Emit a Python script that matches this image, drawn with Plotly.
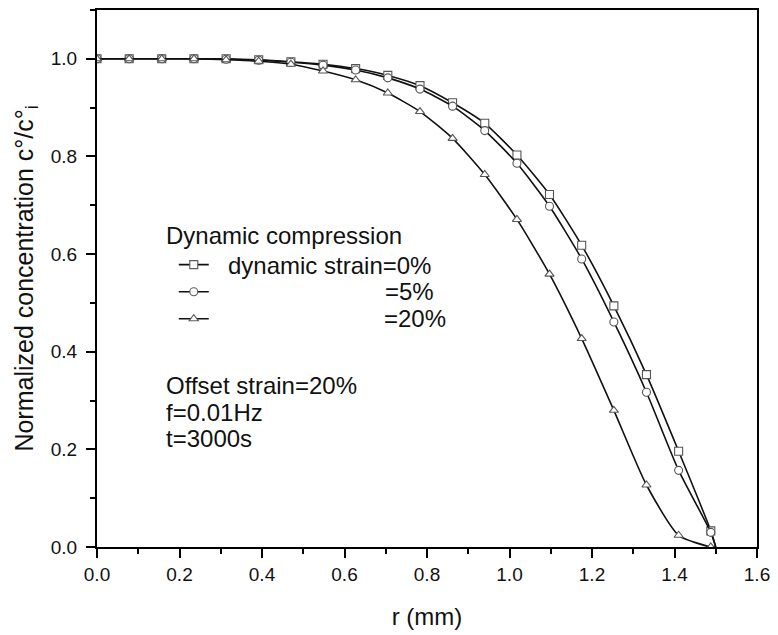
import plotly.graph_objects as go

# r positions of the markers (mm)
r = [0.000, 0.078, 0.157, 0.235, 0.313, 0.392, 0.470, 0.548, 0.627, 0.705,
     0.783, 0.862, 0.940, 1.018, 1.097, 1.175, 1.253, 1.332, 1.410, 1.488]
r_end = 1.5
c_end = 0.0

c_0 = [1.000, 1.000, 1.000, 1.000, 1.000, 0.998, 0.994, 0.989, 0.980, 0.966,
       0.945, 0.910, 0.868, 0.803, 0.722, 0.618, 0.494, 0.353, 0.196, 0.033]
c_5 = [1.000, 1.000, 1.000, 1.000, 0.999, 0.997, 0.993, 0.987, 0.977, 0.961,
       0.938, 0.903, 0.853, 0.786, 0.698, 0.590, 0.461, 0.317, 0.157, 0.030]
c_20 = [1.000, 1.000, 1.000, 1.000, 0.998, 0.995, 0.989, 0.975, 0.957, 0.930,
        0.892, 0.837, 0.763, 0.671, 0.559, 0.427, 0.280, 0.127, 0.024, 0.000]

names = ["dynamic strain=0%", "=5%", "=20%"]
symbols = ["square", "circle", "triangle-up"]
series = [c_0, c_5, c_20]

x_ticks = [0.0, 0.2, 0.4, 0.6, 0.8, 1.0, 1.2, 1.4, 1.6]
y_ticks = [0.0, 0.2, 0.4, 0.6, 0.8, 1.0]

FONT = "Liberation Sans, Arial, sans-serif"
NB = "\u00a0"
TXT = 24

fig = go.Figure()
for k, (name, sym, ys) in enumerate(zip(names, symbols, series)):
    opac = [1] * len(r) + [0]
    fig.add_trace(go.Scatter(
        x=r + [r_end], y=ys + [c_end],
        mode="lines+markers", name=NB,
        line=dict(color="#111111", width=1.6, shape="spline", smoothing=0.6),
        marker=dict(symbol=sym, size=8, color="white", opacity=opac,
                    line=dict(color="#555555", width=1.1)),
    ))

W, H = 778 - 97 - 19, 635 - 8 - 88


def px(xp):
    return (xp - 97) / W


def py(yp):
    return (547 - yp) / H


fig.update_layout(
    width=778, height=635,
    margin=dict(l=97, r=19, t=8, b=88),
    paper_bgcolor="white", plot_bgcolor="white",
    font=dict(family=FONT, size=19, color="#111111"),
    showlegend=True,
    legend=dict(
        x=px(174), y=py(245), xanchor="left", yanchor="top",
        bgcolor="rgba(0,0,0,0)", borderwidth=0,
        font=dict(size=18.5, family=FONT, color="#111111"),
        tracegroupgap=0,
    ),
    xaxis=dict(
        range=[0, 1.6], tickvals=x_ticks, ticktext=[f"{v:.1f}" for v in x_ticks],
        showline=True, linecolor="black", linewidth=2, mirror=True,
        ticks="outside", ticklen=9, tickwidth=2, tickcolor="black",
        minor=dict(dtick=0.1, ticks="outside", ticklen=5, tickwidth=2, tickcolor="black"),
        showgrid=False, zeroline=False,
        title=dict(text="r (mm)", font=dict(size=TXT), standoff=24),
        tickfont=dict(size=19),
    ),
    yaxis=dict(
        range=[0, 1.1], tickvals=y_ticks, ticktext=[f"{v:.1f}" for v in y_ticks],
        showline=True, linecolor="black", linewidth=2, mirror=True,
        ticks="outside", ticklen=9, tickwidth=2, tickcolor="black",
        minor=dict(dtick=0.1, ticks="outside", ticklen=5, tickwidth=2, tickcolor="black"),
        showgrid=False, zeroline=False, ticklabelstandoff=5,
        title=dict(text="Normalized concentration c°/c°<sub>i</sub>", font=dict(size=25), standoff=10),
        tickfont=dict(size=19),
    ),
)

texts = [
    ("Dynamic compression", 165, 234, "left"),
    ("dynamic strain=0%", 227, 264, "left"),
    ("=5%", 436, 291, "right"),
    ("=20%", 448, 318, "right"),
    ("Offset strain=20%", 165, 385, "left"),
    ("f=0.01Hz", 165, 412, "left"),
    ("t=3000s", 165, 438, "left"),
]
for t, xp, yp, anc in texts:
    fig.add_annotation(
        xref="paper", yref="paper", x=px(xp), y=py(yp), xanchor=anc, yanchor="middle",
        text=t, showarrow=False, borderpad=0,
        font=dict(size=TXT, family=FONT, color="#111111"),
    )

fig.write_html("out.html")
